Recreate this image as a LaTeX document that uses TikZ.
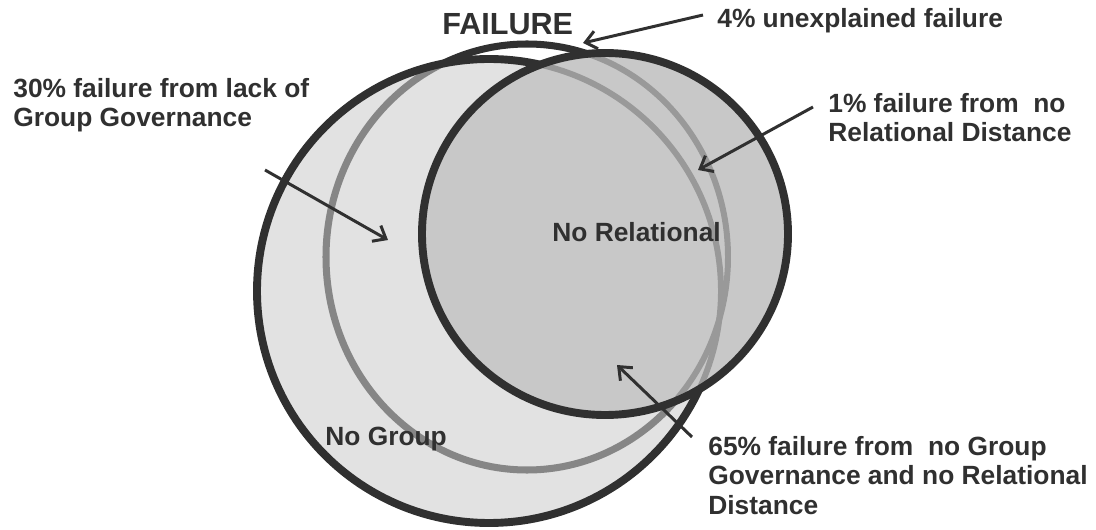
\documentclass[tikz,border=0pt]{standalone}
\usepackage{fontspec}
\setmainfont{Liberation Sans}
\usetikzlibrary{arrows.meta}
\definecolor{dark}{HTML}{303030}
\definecolor{groupfill}{gray}{0.796}
\definecolor{relfill}{HTML}{C8C8C8}
\definecolor{under}{HTML}{999999}

\begin{document}
\begin{tikzpicture}[x=0.02cm,y=-0.02cm]
    \useasboundingbox (0,0) rectangle (1096,530);

    % the three sets
    \draw[dark,line width=4pt] (527,257) ellipse [x radius=201,y radius=213];
    \draw[dark,line width=4.5pt,fill=groupfill,fill opacity=0.56] (489,291) circle [radius=232];
    \fill[relfill] (605,234) ellipse [x radius=183,y radius=181];
    \begin{scope}
      \clip (605,234) ellipse [x radius=183,y radius=181];
      \draw[under,line width=3.4pt] (527,257) ellipse [x radius=201,y radius=213];
      \draw[under,line width=3.4pt] (489,291) circle [radius=232];
    \end{scope}
    \draw[dark,line width=4.5pt] (605,234) ellipse [x radius=183,y radius=181];

    \begin{scope}[every node/.style={font=\bfseries\fontsize{15}{16.8}\selectfont,
        text=dark,inner sep=0pt,align=left}]
      \node[anchor=base west] (fail) at (442,35) {\fontsize{17.4}{20}\selectfont FAILURE};
      \node[anchor=base west] (unexp) at (717,28) {4\% unexplained failure};
      \node[anchor=north west] (lack) at (13,78) {30\% failure from lack of\\Group Governance};
      \node[anchor=north west] (norel) at (828,93) {1\% failure from\ \ no\\Relational Distance};
      \node[anchor=north west] (both) at (708,436) {65\% failure from\ \ no Group\\Governance and no Relational\\Distance};
      \node[anchor=base west] (rellab) at (552,242) {No Relational};
      \node[anchor=base west] (grouplab) at (325,445) {No Group};
    \end{scope}

    \coordinate (lack-t) at (265,170);
    \coordinate (lack-h) at (388,240);
    \coordinate (unexp-t) at (703,15);
    \coordinate (unexp-h) at (583,43);
    \coordinate (norel-t) at (813,107);
    \coordinate (norel-h) at (698,170);
    \coordinate (both-t) at (692,437);
    \coordinate (both-h) at (617,365);

    \begin{scope}[>={Straight Barb[length=2.2mm,width=3.6mm]},
        every edge/.style={draw=dark,line width=1.7pt}]
      \path [->] (lack-t) edge (lack-h);
      \path [->] (unexp-t) edge (unexp-h);
      \path [->] (norel-t) edge (norel-h);
      \path [->] (both-t) edge (both-h);
    \end{scope}
\end{tikzpicture}
\end{document}
